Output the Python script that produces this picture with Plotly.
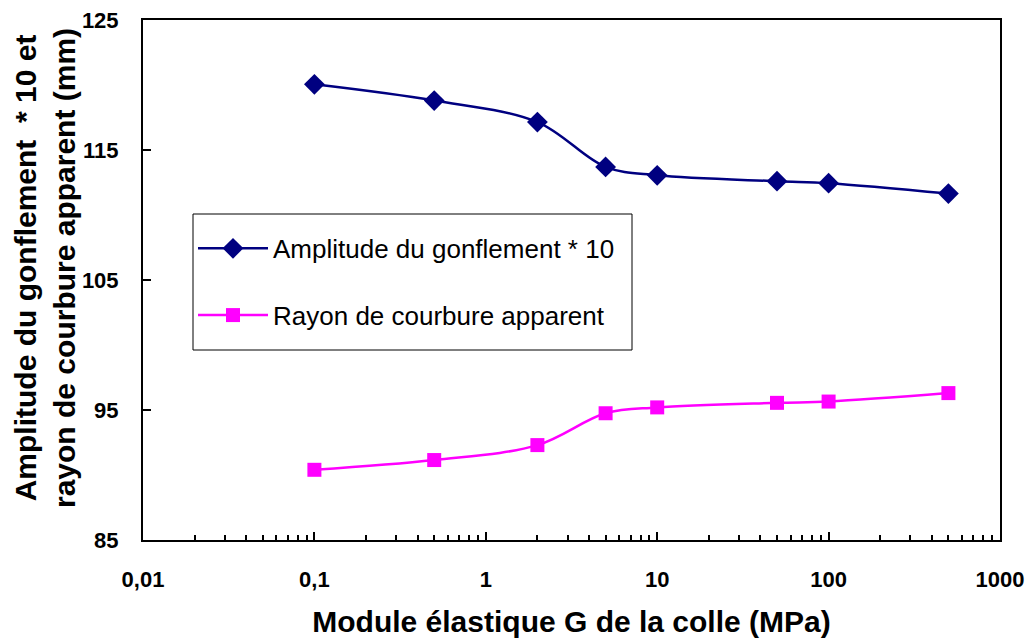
import plotly.graph_objects as go

# Shear modulus of the adhesive (MPa)
module_g = [0.1, 0.5, 2, 5, 10, 50, 100, 500]
# Swelling amplitude, scaled by 10
amplitude_x10 = [120.05, 118.8, 117.15, 113.7, 113.05, 112.6, 112.45, 111.65]
# Apparent radius of curvature (mm)
rayon_courbure = [90.4, 91.15, 92.3, 94.75, 95.2, 95.55, 95.65, 96.3]

x_tickvals = [0.01, 0.1, 1, 10, 100, 1000]
x_ticktext = ["0,01", "0,1", "1", "10", "100", "1000"]
y_tickvals = [85, 95, 105, 115, 125]

FONT = "Liberation Sans, Arial, sans-serif"
PLOT_W, PLOT_H = 857, 520

fig = go.Figure()
fig.add_trace(go.Scatter(
    x=module_g, y=amplitude_x10, name="Amplitude du gonflement * 10",
    mode="lines+markers", legendgroup="a",
    line=dict(color="#000080", width=2.5, shape="spline", smoothing=1.0),
    marker=dict(symbol="diamond", size=16, color="#000080"),
))
fig.add_trace(go.Scatter(
    x=module_g, y=rayon_courbure, name="Rayon de courbure apparent",
    mode="lines+markers", legendgroup="b",
    line=dict(color="#FF00FF", width=2.5, shape="spline", smoothing=1.0),
    marker=dict(symbol="square", size=14, color="#FF00FF"),
))

fig.update_layout(
    width=1032, height=641,
    margin=dict(l=143, r=32, t=20, b=101, autoexpand=False),
    paper_bgcolor="white", plot_bgcolor="white",
    font=dict(family=FONT, color="black"),
    showlegend=True,
    legend=dict(
        x=50 / PLOT_W, y=0.606, xanchor="left", yanchor="top",
        bgcolor="rgba(0,0,0,0)", borderwidth=0,
        font=dict(size=26, family=FONT, color="black"),
        tracegroupgap=30, traceorder="grouped", itemwidth=70,
    ),
    xaxis=dict(
        type="log", range=[-2, 3], automargin=False,
        tickmode="array", tickvals=x_tickvals, ticktext=x_ticktext,
        ticks="inside", ticklen=8, tickwidth=2, tickcolor="black",
        minor=dict(ticks="inside", ticklen=5, tickwidth=1.5, tickcolor="black",
                   dtick="D1", showgrid=False),
        showline=True, linecolor="black", linewidth=2, mirror=True,
        showgrid=False, zeroline=False,
        tickfont=dict(size=22, family=FONT, color="black", weight="bold"),
        ticklabelstandoff=19,
        title=dict(text="<b>Module élastique G de la colle (MPa)</b>",
                   font=dict(size=30, family=FONT, color="black"), standoff=20),
    ),
    yaxis=dict(
        range=[85, 125], tickmode="array", tickvals=y_tickvals, automargin=False,
        ticks="inside", ticklen=8, tickwidth=2, tickcolor="black",
        showline=True, linecolor="black", linewidth=2, mirror=True,
        showgrid=False, zeroline=False,
        tickfont=dict(size=22, family=FONT, color="black", weight="bold"),
        ticklabelstandoff=18,
    ),
    annotations=[dict(
        text="<b>Amplitude du gonflement  * 10 et<br>rayon de courbure apparent (mm)</b>",
        xref="paper", yref="paper", x=-(143 - 45) / PLOT_W, y=(540 - 268) / PLOT_H,
        xanchor="center", yanchor="middle", textangle=-90, showarrow=False,
        font=dict(size=30, family=FONT, color="black"),
    )],
    shapes=[dict(
        type="rect", xref="paper", yref="paper",
        x0=50 / PLOT_W, x1=(632 - 143) / PLOT_W,
        y0=(540 - 350) / PLOT_H, y1=(540 - 214) / PLOT_H,
        line=dict(color="black", width=1), fillcolor="rgba(0,0,0,0)", layer="below",
    )],
)

fig.write_html("out.html")
